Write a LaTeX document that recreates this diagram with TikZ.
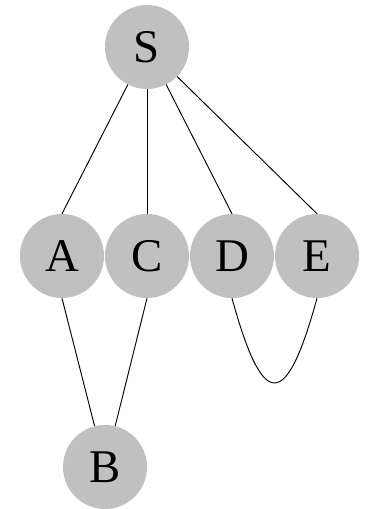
\documentclass[tikz,border=0pt]{standalone}
\usepackage{fontspec}
\setmainfont{Liberation Serif}
\usepackage{tikz}
\usetikzlibrary{positioning,calc}
\definecolor{nodegray}{RGB}{192,192,192}

\begin{document}
\begin{tikzpicture}[
  x=0.03cm, y=-0.03cm,
  every node/.style={font=\fontsize{40}{40}\selectfont},
  vert/.style={circle, fill=nodegray, minimum size=2.52cm, inner sep=0pt},
  link/.style={line width=0.8pt, black}
]
\useasboundingbox (0,0) rectangle (368,509);

% top node
\node[vert] (S) at (147, 47) {S};

% middle row
\node[vert] (A) at (62, 256) {A};
\node[vert] (C) at (147, 256) {C};
\node[vert] (D) at (232, 256) {D};
\node[vert] (E) at (317, 256) {E};

% bottom node
\node[vert] (B) at (105, 467) {B};

% Edges
\draw[link] (S) -- (A.north);
\draw[link] (S) -- (C);
\draw[link] (S) -- (D.north);
\draw[link] (S) -- (E.north);
\draw[link] (A.south) -- (B);
\draw[link] (C.south) -- (B);
\draw[link] (D.south) .. controls ($(D.south)+(31,113)$) and ($(E.south)+(-31,113)$) .. (E.south);

\end{tikzpicture}
\end{document}
